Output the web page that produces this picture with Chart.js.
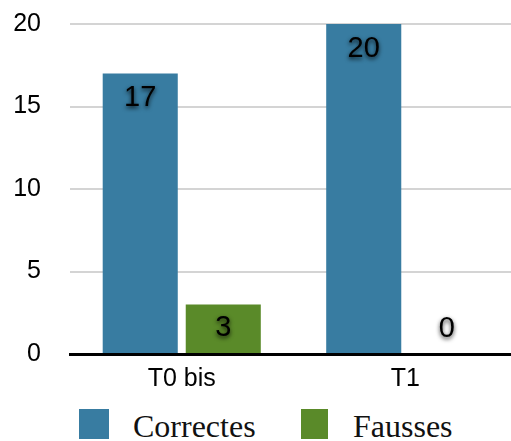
<!DOCTYPE html>
<html>
<head>
<meta charset="utf-8">
<script src="https://cdn.jsdelivr.net/npm/chart.js@4.4.1/dist/chart.umd.min.js"></script>
<style>
  html, body { margin: 0; padding: 0; background: #fff; overflow: hidden; }
  #wrap { position: relative; width: 517px; height: 441px; overflow: hidden; }
  #cv { position: absolute; left: 0; top: 0; }
  .lg-box { position: absolute; top: 409px; height: 30px; }
  .lg-txt { position: absolute; top: 410px; font-family: "Liberation Serif", "Times New Roman", serif; font-size: 32px; line-height: 32px; color: #111; white-space: nowrap; }
</style>
</head>
<body>
<div id="wrap">
  <div style="position:absolute;left:0;top:0;width:517px;height:400px;">
    <canvas id="cv"></canvas>
  </div>
  <div class="lg-box" style="left:79px;width:30px;background:#387ca1;"></div>
  <div class="lg-txt" style="left:133px;">Correctes</div>
  <div class="lg-box" style="left:301px;width:27px;background:#5a8a29;"></div>
  <div class="lg-txt" style="left:353px;">Fausses</div>
</div>
<script>
const categories = ["T0 bis", "T1"];
const seriesNames = ["Correctes", "Fausses"];
const correctes = [17, 20];
const fausses = [3, 0];
const yTicks = [0, 5, 10, 15, 20];

const colors = ["#387ca1", "#5a8a29"];

const valueLabels = {
  id: "valueLabels",
  afterDatasetsDraw(chart) {
    const ctx = chart.ctx;
    chart.data.datasets.forEach((ds, di) => {
      const meta = chart.getDatasetMeta(di);
      meta.data.forEach((bar, i) => {
        const v = ds.data[i];
        const y = Math.min(bar.y + 24.5, bar.base - 25);
        ctx.save();
        ctx.font = '29px "Liberation Sans", Arial, sans-serif';
        ctx.fillStyle = "#000";
        ctx.textAlign = "center";
        ctx.textBaseline = "middle";
        ctx.shadowColor = "rgba(0,0,0,0.8)";
        ctx.shadowBlur = 4;
        ctx.shadowOffsetX = 0;
        ctx.shadowOffsetY = 2;
        ctx.fillText(String(v), bar.x, y);
        ctx.restore();
      });
    });
  }
};

new Chart(document.getElementById("cv"), {
  type: "bar",
  data: {
    labels: categories,
    datasets: [
      { label: seriesNames[0], data: correctes, backgroundColor: colors[0], categoryPercentage: 0.743, barPercentage: 0.904 },
      { label: seriesNames[1], data: fausses, backgroundColor: colors[1], categoryPercentage: 0.743, barPercentage: 0.904 }
    ]
  },
  options: {
    responsive: true,
    maintainAspectRatio: false,
    animation: false,
    devicePixelRatio: 1,
    layout: { padding: { left: 13, right: 0, top: 24, bottom: 6 } },
    plugins: { legend: { display: false }, tooltip: { enabled: false } },
    scales: {
      x: {
        grid: { display: false, drawTicks: false },
        border: { display: true, color: "#000", width: 3 },
        ticks: { color: "#000", padding: 10, font: { family: '"Liberation Sans", Arial, sans-serif', size: 25 } },
        afterFit(scale) { scale.height = 40; scale.paddingLeft = 0; scale.paddingRight = 0; }
      },
      y: {
        min: 0, max: 20,
        afterBuildTicks(scale) { scale.ticks = yTicks.map(v => ({ value: v })); },
        grid: { color: "#d4d4d4", lineWidth: 2, drawTicks: false },
        border: { display: false },
        ticks: { color: "#000", padding: 29, font: { family: '"Liberation Sans", Arial, sans-serif', size: 25 } },
        afterFit(scale) { scale.width = 57; scale.paddingTop = 0; scale.paddingBottom = 0; }
      }
    }
  },
  plugins: [valueLabels]
});
</script>
</body>
</html>
